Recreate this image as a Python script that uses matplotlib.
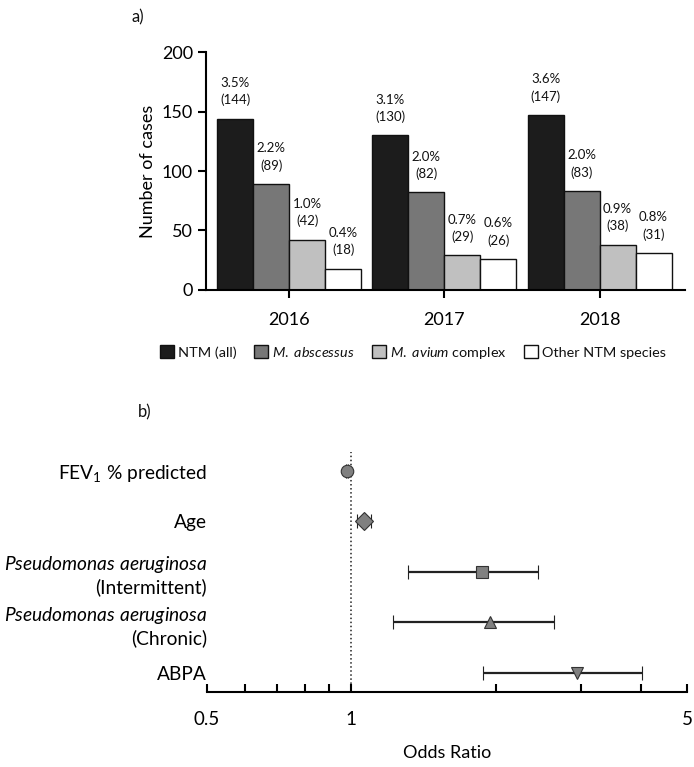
import matplotlib
matplotlib.use("Agg")
import matplotlib.pyplot as plt
from matplotlib.ticker import FixedLocator, NullFormatter
import numpy as np

plt.rcParams['font.family'] = ['Lato', 'DejaVu Sans']
plt.rcParams['text.color'] = '#111111'
plt.rcParams['mathtext.fontset'] = 'custom'
plt.rcParams['mathtext.rm'] = 'Lato'
plt.rcParams['mathtext.it'] = 'Lato:italic'

# panel a) data
years = ["2016", "2017", "2018"]
species = ["NTM (all)", "M. abscessus", "M. avium complex", "Other NTM species"]
counts = [
    [144, 130, 147],
    [89, 82, 83],
    [42, 29, 38],
    [18, 26, 31],
]
percents = [
    ["3.5%", "3.1%", "3.6%"],
    ["2.2%", "2.0%", "2.0%"],
    ["1.0%", "0.7%", "0.9%"],
    ["0.4%", "0.6%", "0.8%"],
]
bar_colors = ["#1c1c1c", "#777777", "#c0c0c0", "#ffffff"]

# panel b) data
factors = ["FEV$_1$ % predicted", "Age",
           "$\\it{Pseudomonas\\ aeruginosa}$\n(Intermittent)",
           "$\\it{Pseudomonas\\ aeruginosa}$\n(Chronic)", "ABPA"]
odds = [0.98, 1.06, 1.87, 1.94, 2.95]
ci_low = [0.975, 1.025, 1.31, 1.22, 1.88]
ci_high = [0.985, 1.10, 2.45, 2.64, 4.02]
markers = ["o", "D", "s", "^", "v"]

fig = plt.figure(figsize=(6.94, 7.67), dpi=100)

# ---- a) bar chart
ax1 = fig.add_axes([0.297, 0.622, 0.690, 0.310])
x = np.arange(len(years))
w = 0.232
for i in range(len(species)):
    pos = x + (i - 1.5) * w
    ax1.bar(pos, counts[i], width=w, color=bar_colors[i], edgecolor="#111111", linewidth=1)
    for p, c, pc in zip(pos, counts[i], percents[i]):
        ax1.annotate(pc + "\n(" + str(c) + ")", (p, c), xytext=(0, 9), textcoords="offset points",
                     ha="center", va="bottom", fontsize=9.5, linespacing=1.45)
ax1.set_xlim(-0.535, 2.55)
ax1.set_ylim(0, 200)
ax1.set_yticks([0, 50, 100, 150, 200])
ax1.set_xticks(x)
ax1.set_xticklabels(years)
ax1.tick_params(axis="both", labelsize=13, width=1.5, length=6)
ax1.tick_params(axis="x", pad=10)
ax1.set_ylabel("Number of cases", fontsize=13)
for s in ["top", "right"]:
    ax1.spines[s].set_visible(False)
for s in ["left", "bottom"]:
    ax1.spines[s].set_linewidth(1.5)

handles = [plt.Rectangle((0, 0), 1, 1, facecolor=c, edgecolor="#111111") for c in bar_colors]
leg_labels = ["NTM (all)", "$\\it{M.\\ abscessus}$", "$\\it{M.\\ avium}$ complex", "Other NTM species"]
fig.legend(handles, leg_labels, loc="center", bbox_to_anchor=(0.595, 0.54), ncol=4,
           frameon=False, fontsize=10.4, handlelength=1.0, handleheight=1.0,
           handletextpad=0.25, columnspacing=1.2)

fig.text(0.19, 0.977, "a)", fontsize=12, ha="left", va="center")
fig.text(0.198, 0.462, "b)", fontsize=12, ha="left", va="center")

# ---- b) forest plot
ax2 = fig.add_axes([0.298, 0.0978, 0.692, 0.313])
yy = np.arange(len(factors))
for i in range(len(factors)):
    ax2.errorbar(odds[i], yy[i], xerr=[[odds[i] - ci_low[i]], [ci_high[i] - odds[i]]],
                 fmt=markers[i], color="#222222", ecolor="#222222", elinewidth=1.6,
                 capsize=5, capthick=1.6, markersize=9, markerfacecolor="#808080",
                 markeredgecolor="#333333", markeredgewidth=0.8)
ax2.axvline(1, color="#222222", linestyle=":", linewidth=1.1, zorder=0)
ax2.set_xscale("log")
ax2.set_xlim(0.5, 5)
ax2.set_ylim(4.376, -0.376)
ax2.xaxis.set_major_locator(FixedLocator([0.5, 1, 5]))
ax2.set_xticklabels(["0.5", "1", "5"])
ax2.xaxis.set_minor_locator(FixedLocator([0.6, 0.7, 0.8, 0.9, 2, 3, 4]))
ax2.xaxis.set_minor_formatter(NullFormatter())
ax2.tick_params(axis="x", which="both", direction="in", length=6, width=1.5, labelsize=13.5, pad=14)
ax2.set_yticks(yy)
ax2.set_yticklabels(factors, linespacing=1.25)
ax2.tick_params(axis="y", length=0, labelsize=13.8, pad=0)
ax2.set_xlabel("Odds Ratio", fontsize=13, labelpad=12)
for s in ["top", "right", "left"]:
    ax2.spines[s].set_visible(False)
ax2.spines["bottom"].set_linewidth(1.5)

fig.savefig("out.png", dpi=100)
